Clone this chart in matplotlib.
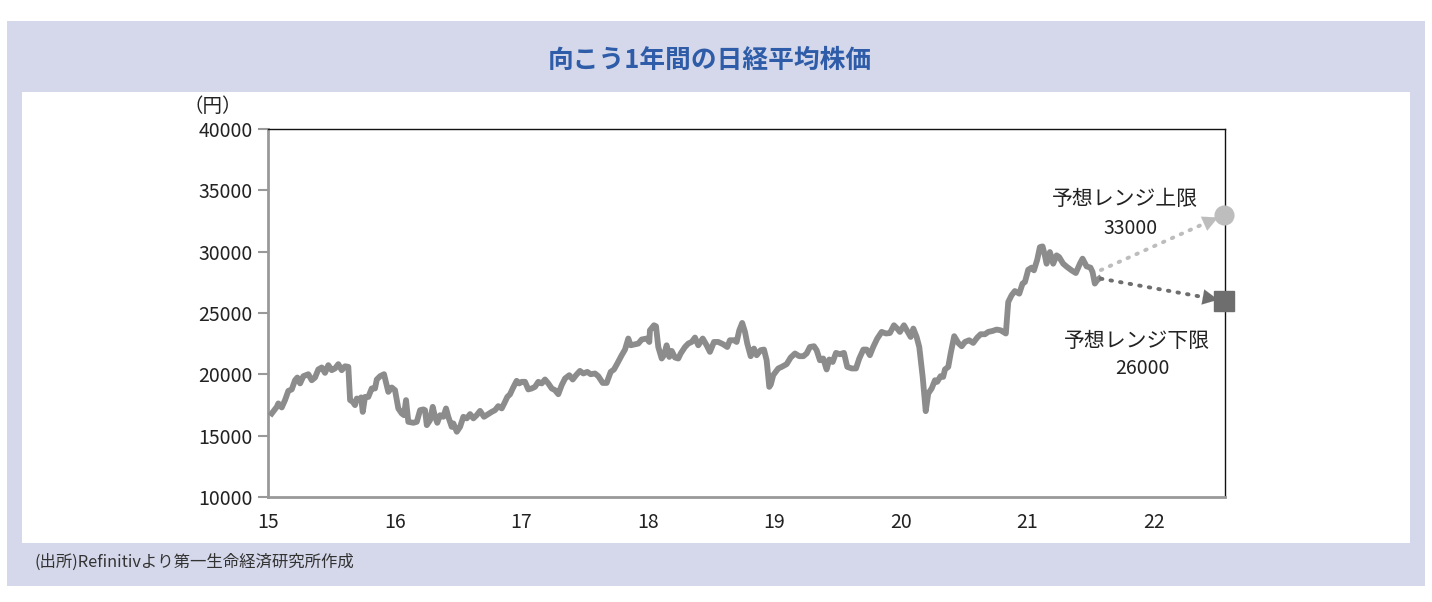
import numpy as np
import matplotlib.pyplot as plt
from matplotlib.patches import Rectangle

plt.rcParams['font.family'] = ['Noto Sans CJK JP', 'DejaVu Sans']

# Nikkei 225 (decimal year, yen)
years = [2015.029, 2015.069, 2015.081, 2015.108, 2015.134, 2015.160, 2015.187, 2015.213, 2015.231, 2015.253,
         2015.279, 2015.318, 2015.345, 2015.371, 2015.397, 2015.424, 2015.450, 2015.476, 2015.503, 2015.529,
         2015.555, 2015.582, 2015.608, 2015.634, 2015.648, 2015.669, 2015.687, 2015.701, 2015.721, 2015.735,
         2015.748, 2015.766, 2015.792, 2015.819, 2015.845, 2015.859, 2015.885, 2015.916, 2015.950, 2015.977,
         2016.003, 2016.029, 2016.056, 2016.074, 2016.090, 2016.108, 2016.148, 2016.175, 2016.201, 2016.227,
         2016.240, 2016.254, 2016.280, 2016.301, 2016.319, 2016.337, 2016.359, 2016.385, 2016.406, 2016.424,
         2016.451, 2016.464, 2016.491, 2016.517, 2016.543, 2016.570, 2016.596, 2016.622, 2016.648, 2016.675,
         2016.706, 2016.740, 2016.767, 2016.793, 2016.819, 2016.846, 2016.872, 2016.890, 2016.912, 2016.933,
         2016.964, 2016.985, 2017.004, 2017.030, 2017.056, 2017.083, 2017.109, 2017.135, 2017.162, 2017.188,
         2017.214, 2017.241, 2017.267, 2017.293, 2017.320, 2017.346, 2017.380, 2017.407, 2017.433, 2017.464,
         2017.491, 2017.522, 2017.549, 2017.583, 2017.609, 2017.644, 2017.675, 2017.707, 2017.733, 2017.759,
         2017.794, 2017.820, 2017.846, 2017.865, 2017.899, 2017.925, 2017.952, 2017.991, 2018.012, 2018.017,
         2018.049, 2018.065, 2018.083, 2018.110, 2018.128, 2018.149, 2018.170, 2018.189, 2018.215, 2018.241,
         2018.260, 2018.294, 2018.320, 2018.347, 2018.373, 2018.399, 2018.434, 2018.465, 2018.491, 2018.523,
         2018.557, 2018.596, 2018.628, 2018.649, 2018.681, 2018.702, 2018.723, 2018.746, 2018.768, 2018.786,
         2018.813, 2018.839, 2018.860, 2018.892, 2018.918, 2018.939, 2018.960, 2018.973, 2018.991, 2019.031,
         2019.058, 2019.097, 2019.129, 2019.163, 2019.197, 2019.229, 2019.255, 2019.281, 2019.313, 2019.334,
         2019.360, 2019.386, 2019.413, 2019.434, 2019.461, 2019.487, 2019.518, 2019.550, 2019.576, 2019.611,
         2019.645, 2019.671, 2019.703, 2019.729, 2019.755, 2019.781, 2019.813, 2019.848, 2019.882, 2019.913,
         2019.945, 2019.971, 2019.992, 2020.024, 2020.050, 2020.077, 2020.098, 2020.124, 2020.145, 2020.172,
         2020.196, 2020.216, 2020.243, 2020.269, 2020.287, 2020.313, 2020.334, 2020.348, 2020.374, 2020.393,
         2020.421, 2020.453, 2020.480, 2020.506, 2020.539, 2020.571, 2020.603, 2020.630, 2020.664, 2020.690,
         2020.725, 2020.756, 2020.788, 2020.829, 2020.848, 2020.874, 2020.900, 2020.935, 2020.961, 2020.980,
         2021.006, 2021.033, 2021.051, 2021.077, 2021.098, 2021.119, 2021.137, 2021.151, 2021.177, 2021.203,
         2021.230, 2021.250, 2021.282, 2021.313, 2021.348, 2021.382, 2021.414, 2021.435, 2021.467, 2021.498,
         2021.514, 2021.532, 2021.550, 2021.566]
nikkei = [16810, 17350, 17630, 17300, 17900, 18650, 18770, 19520, 19740, 19260,
          19850, 20010, 19520, 19740, 20400, 20560, 20120, 20750, 20340, 20480,
          20830, 20340, 20660, 20610, 17900, 17760, 17490, 18030, 17900, 18120,
          16940, 18160, 18160, 18850, 18850, 19580, 19850, 20010, 18570, 18930,
          18710, 17220, 16810, 16670, 17900, 16130, 16050, 16130, 17080, 17140,
          17080, 15860, 16270, 17350, 16540, 16050, 16670, 16540, 17220, 16540,
          15720, 16000, 15320, 15720, 16540, 16410, 16760, 16410, 16670, 17020,
          16540, 16760, 16940, 17080, 17410, 17220, 17760, 18160, 18380, 18850,
          19470, 19260, 19390, 19390, 18770, 18850, 18980, 19390, 19260, 19580,
          19260, 18850, 18710, 18380, 19120, 19660, 19930, 19580, 19930, 20280,
          20070, 20200, 20010, 20070, 19850, 19300, 19300, 20200, 20400, 20880,
          21560, 22020, 22920, 22370, 22450, 22510, 22840, 22920, 22640, 23590,
          24000, 23920, 22230, 21290, 21560, 22370, 21420, 21910, 21370, 21290,
          21700, 22230, 22510, 22640, 23000, 22370, 22920, 22370, 21830, 22640,
          22640, 22450, 22230, 22780, 22780, 22640, 23590, 24190, 23460, 22510,
          21480, 22100, 21560, 21970, 22020, 21150, 18980, 19200, 19930, 20480,
          20610, 20830, 21370, 21700, 21480, 21480, 21700, 22230, 22290, 21970,
          21150, 21290, 20400, 21210, 21010, 21750, 21640, 21750, 20610, 20480,
          20480, 21290, 22020, 22020, 21560, 22230, 22920, 23460, 23330, 23370,
          24000, 23730, 23460, 24000, 23540, 23050, 23730, 23050, 22230, 19790,
          17000, 18440, 18850, 19520, 19390, 19850, 19790, 20400, 20610, 21700,
          23110, 22560, 22290, 22640, 22780, 22560, 23000, 23270, 23270, 23460,
          23540, 23650, 23590, 23330, 25900, 26440, 26790, 26580, 27400, 27530,
          28530, 28700, 28480, 29350, 30370, 30430, 29700, 29020, 29970, 29020,
          29700, 29560, 29020, 28750, 28480, 28260, 29020, 29430, 28800, 28700,
          28340, 27400, 27660, 27800]

# one-year forecast range
fc_start_year = 2021.58
fc_end_year = 2022.55
upper_start, upper_end = 28500, 33000
lower_start, lower_end = 27800, 26000
upper_name, upper_value = '予想レンジ上限', '33000'
lower_name, lower_value = '予想レンジ下限', '26000'

xticks = [2015, 2016, 2017, 2018, 2019, 2020, 2021, 2022]
xticklabels = ['15', '16', '17', '18', '19', '20', '21', '22']
yticks = [10000, 15000, 20000, 25000, 30000, 35000, 40000]

fig = plt.figure(figsize=(14.32, 6.02), dpi=100)

# background panels
fig.patches.append(Rectangle((0.0049, 0.0266), 0.990, 0.9385, transform=fig.transFigure,
                             facecolor='#D5D8EA', edgecolor='none', zorder=-10))
fig.patches.append(Rectangle((0.0154, 0.098), 0.9693, 0.749, transform=fig.transFigure,
                             facecolor='white', edgecolor='none', zorder=-9))

fig.text(0.496, 0.9, '向こう1年間の日経平均株価', ha='center', va='center',
         fontsize=18.5, fontweight='bold', color='#2E5CA8')
fig.text(0.024, 0.066, '(出所)Refinitivより第一生命経済研究所作成', ha='left', va='center',
         fontsize=11.8, color='#333333')

ax = fig.add_axes([0.1872, 0.1744, 0.6682, 0.6113])
ax.set_facecolor('none')

ax.plot(years, nikkei, color='#8C8C8C', lw=4.2, solid_joinstyle='round', zorder=3)

# forecast arrows
light = '#BDBDBD'
dark = '#6E6E6E'
for y0, y1, col, mk in [(upper_start, upper_end, light, 'o'), (lower_start, lower_end, dark, 's')]:
    t = 0.84
    xm = fc_start_year + (fc_end_year - fc_start_year) * t
    ym = y0 + (y1 - y0) * t
    ax.plot([fc_start_year, xm], [y0, ym], color=col, lw=2.8,
            linestyle=(0, (0.4, 2.1)), dash_capstyle='round', zorder=4)
    t2 = 0.955
    xh = fc_start_year + (fc_end_year - fc_start_year) * t2
    yh = y0 + (y1 - y0) * t2
    ax.annotate('', xy=(xh, yh), xytext=(xm, ym),
                arrowprops=dict(arrowstyle='-|>,head_length=1.1,head_width=0.55',
                                color=col, lw=0.1, shrinkA=0, shrinkB=0), zorder=4)
    ax.plot([fc_end_year], [y1], marker=mk, ms=13.5 if mk == 'o' else 14, color=col,
            clip_on=False, zorder=5)

# range labels
ax.text(2021.77, 34260, upper_name, ha='center', va='center', fontsize=15, color='#222222')
ax.text(2021.817, 31900, upper_value, ha='center', va='center', fontsize=14, color='#222222')
ax.text(2021.864, 22700, lower_name, ha='center', va='center', fontsize=15, color='#222222')
ax.text(2021.904, 20500, lower_value, ha='center', va='center', fontsize=14, color='#222222')

ax.set_xlim(2015, 2022.56)
ax.set_ylim(10000, 40000)
ax.set_xticks(xticks)
ax.set_xticklabels(xticklabels)
ax.set_yticks(yticks)
ax.tick_params(axis='x', length=0, labelsize=14, pad=11, colors='#222222')
ax.tick_params(axis='y', length=7, width=1.5, color='#999999', labelsize=14,
               pad=4, labelcolor='#222222')
for s in ['left', 'bottom']:
    ax.spines[s].set_color('#999999')
    ax.spines[s].set_linewidth(2)
for s in ['top', 'right']:
    ax.spines[s].set_color('#111111')
    ax.spines[s].set_linewidth(1)

ax.text(-0.058, 1.06, '（円）', transform=ax.transAxes, ha='center', va='center',
        fontsize=14, color='#222222')

fig.savefig('out.png', dpi=100)
